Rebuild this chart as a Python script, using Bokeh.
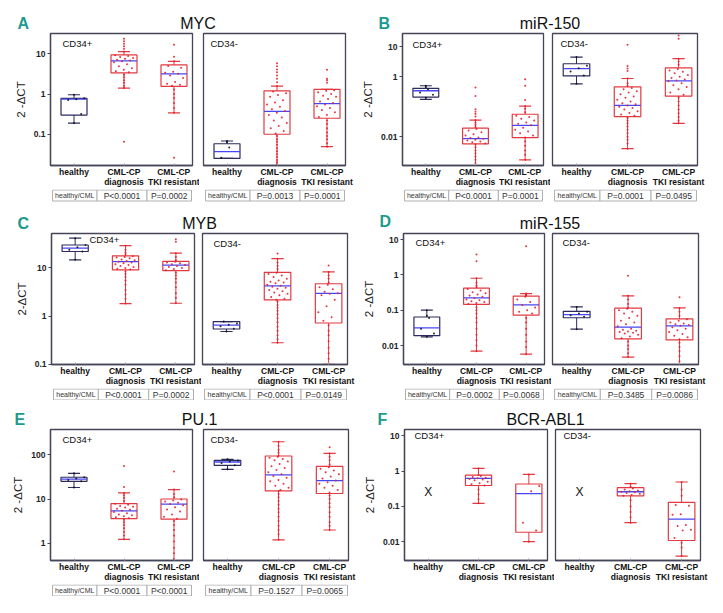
import math
from bokeh.plotting import figure
from bokeh.models import Range1d, FixedTicker, CustomJSTickFormatter, Label, ColumnDataSource
from bokeh.layouts import column, row
from bokeh.embed import file_html
from bokeh.resources import INLINE
from bokeh.core.properties import value

# ---------------- data ----------------
groups = ["healthy", "CML-CP\ndiagnosis", "CML-CP\nTKI resistant"]
compare_label = "healthy/CML"
subsets = ["CD34+", "CD34-"]
ylabel_main = "2 -\u0394CT"
ylabel_myb = "2-\u0394CT"

# box stats per group: [lower whisker, q1, median, q3, upper whisker]
MYC_ticks = [0.1, 1, 10]
MYC_pos_stats = [[0.19, 0.30, 0.75, 0.78, 0.96], [1.41, 3.35, 6.7, 9.4, 11.4], [0.34, 1.55, 3.16, 5.3, 6.5]]
MYC_pos_healthy = [0.96, 0.78, 0.74, 0.71, 0.32, 0.19]
MYC_pos_diag = [23.7, 20.6, 17.8, 15.5, 13.3, 11.4, 9.2, 8.8, 8.3, 7.9, 7.5, 7.1, 6.8, 6.5, 6.2, 5.5, 4.9, 4.4,
                4.0, 3.7, 3.5, 3.0, 2.6, 2.2, 1.9, 1.6, 1.41, 0.065]
MYC_pos_tki = [16.8, 8.4, 6.5, 5.0, 4.5, 3.6, 3.4, 3.2, 2.9, 2.5, 2.0, 1.8, 1.7, 1.6, 1.3, 1.0, 0.8, 0.6, 0.45, 0.34, 0.026]
MYC_neg_stats = [[0.025, 0.025, 0.037, 0.058, 0.068], [0.012, 0.10, 0.37, 1.2, 1.58], [0.049, 0.25, 0.58, 1.3, 1.3]]
MYC_neg_healthy = [0.068, 0.063, 0.047, 0.026]
MYC_neg_diag = [5.8, 4.9, 4.1, 3.5, 2.9, 2.4, 1.95, 1.58, 1.15, 1.05, 0.95, 0.85, 0.7, 0.62, 0.55, 0.48, 0.42, 0.38,
                0.34, 0.3, 0.26, 0.22, 0.19, 0.16, 0.14, 0.12, 0.105, 0.09, 0.075, 0.065, 0.055, 0.045, 0.038,
                0.032, 0.027, 0.023, 0.02, 0.018]
MYC_neg_tki = [4.0, 2.4, 2.2, 1.9, 1.25, 1.2, 1.1, 1.0, 0.9, 0.85, 0.75, 0.65, 0.6, 0.55, 0.5, 0.45, 0.4, 0.35, 0.3,
               0.27, 0.22, 0.18, 0.14, 0.11, 0.09, 0.075, 0.06, 0.049]
MYC_p_pos = ["P<0.0001", "P=0.0002"]
MYC_p_neg = ["P=0.0013", "P=0.0001"]

MIR150_ticks = [0.01, 1, 10]
MIR150_pos_stats = [[0.176, 0.21, 0.34, 0.41, 0.50], [0.0008, 0.0058, 0.0087, 0.0193, 0.036], [0.0017, 0.0094, 0.024, 0.056, 0.105]]
MIR150_pos_healthy = [0.50, 0.45, 0.38, 0.30, 0.25, 0.2]
MIR150_pos_diag = [0.44, 0.226, 0.082, 0.068, 0.057, 0.047, 0.036, 0.03, 0.025, 0.021, 0.018, 0.016, 0.014, 0.012,
                   0.011, 0.0095, 0.009, 0.0085, 0.008, 0.0075, 0.007, 0.0065, 0.006, 0.0055, 0.0045, 0.0035,
                   0.0028, 0.0022, 0.0017, 0.0013]
MIR150_pos_tki = [0.83, 0.50, 0.167, 0.105, 0.085, 0.065, 0.05, 0.045, 0.04, 0.035, 0.03, 0.027, 0.024, 0.02, 0.017,
                  0.015, 0.013, 0.011, 0.0095, 0.007, 0.005, 0.0035, 0.0025, 0.0017]
MIR150_neg_stats = [[0.58, 1.06, 1.86, 2.7, 4.5], [0.004, 0.047, 0.111, 0.46, 0.87], [0.028, 0.226, 0.73, 1.96, 4.0]]
MIR150_neg_healthy = [4.5, 2.3, 1.9, 1.5, 1.1, 0.58]
MIR150_neg_diag = [11.6, 2.28, 1.87, 1.56, 0.87, 0.6, 0.5, 0.42, 0.38, 0.33, 0.3, 0.26, 0.22, 0.2, 0.17, 0.15, 0.13,
                   0.12, 0.11, 0.1, 0.09, 0.08, 0.07, 0.062, 0.055, 0.05, 0.042, 0.035, 0.028, 0.022, 0.017, 0.013,
                   0.01, 0.008, 0.006, 0.004]
MIR150_neg_tki = [23.7, 18.4, 4.0, 3.2, 2.5, 1.8, 1.6, 1.45, 1.3, 1.15, 1.0, 0.9, 0.8, 0.75, 0.7, 0.6, 0.52, 0.45,
                  0.38, 0.3, 0.25, 0.2, 0.15, 0.11, 0.08, 0.06, 0.045, 0.035, 0.028]
MIR150_p_pos = ["P<0.0001", "P=0.0001"]
MIR150_p_neg = ["P=0.0001", "P=0.0495"]

MYB_ticks = [0.1, 1, 10]
MYB_pos_stats = [[14.8, 22, 25.8, 30, 41.5], [1.82, 9.1, 13.5, 17.9, 29], [1.85, 8.8, 11.5, 13.7, 20.3]]
MYB_pos_healthy = [41.5, 30, 27, 24, 22, 14.8]
MYB_pos_diag = [29, 24, 21, 19, 17.5, 17, 16.5, 16, 15, 14.5, 14, 13.5, 13, 12.5, 12, 11.5, 11, 10.5, 10, 9.6, 9.3,
                8.5, 7.5, 6.5, 5.5, 4.5, 3.5, 2.8, 2.3, 1.82]
MYB_pos_tki = [39.4, 35, 20.3, 17, 14.5, 13.5, 13, 12.5, 12, 11.5, 11, 10.5, 10, 9.5, 9, 8, 7, 6, 5, 4, 3, 2.4, 1.85]
MYB_neg_stats = [[0.48, 0.54, 0.65, 0.77, 0.77], [0.28, 2.17, 4.27, 8.1, 15.6], [0.1, 0.72, 2.96, 4.7, 8.3]]
MYB_neg_healthy = [0.77, 0.7, 0.66, 0.62, 0.55, 0.48]
MYB_neg_diag = [20, 15.6, 13, 11, 9.5, 8, 7.5, 7, 6.5, 6, 5.5, 5.2, 5, 4.8, 4.5, 4.3, 4.1, 3.9, 3.7, 3.5, 3.3, 3.1,
                2.9, 2.7, 2.5, 2.3, 2.2, 2.0, 1.7, 1.5, 1.3, 1.1, 0.9, 0.75, 0.6, 0.5, 0.4, 0.33, 0.28]
MYB_neg_tki = [11.2, 8.3, 7, 6, 5, 4.5, 4.0, 3.6, 3.2, 3.0, 2.9, 2.7, 2.2, 1.6, 1.2, 0.95, 0.8, 0.65, 0.5, 0.4, 0.3,
               0.22, 0.17, 0.13, 0.1]
MYB_p_pos = ["P<0.0001", "P=0.0002"]
MYB_p_neg = ["P<0.0001", "P=0.0149"]

MIR155_ticks = [0.01, 0.1, 1, 10]
MIR155_pos_stats = [[0.0176, 0.019, 0.0316, 0.064, 0.1], [0.0069, 0.145, 0.224, 0.42, 0.80], [0.0057, 0.072, 0.142, 0.25, 0.295]]
MIR155_pos_healthy = [0.1, 0.07, 0.06, 0.03, 0.022, 0.0176]
MIR155_pos_diag = [3.76, 2.44, 0.8, 0.6, 0.5, 0.45, 0.4, 0.36, 0.32, 0.3, 0.28, 0.26, 0.24, 0.22, 0.2, 0.19, 0.18,
                   0.17, 0.16, 0.15, 0.12, 0.1, 0.08, 0.06, 0.045, 0.03, 0.02, 0.014, 0.01, 0.0069]
MIR155_pos_tki = [6.5, 0.295, 0.28, 0.27, 0.26, 0.24, 0.2, 0.17, 0.14, 0.12, 0.1, 0.09, 0.08, 0.06, 0.045, 0.03,
                  0.02, 0.013, 0.009, 0.0057]
MIR155_neg_stats = [[0.029, 0.061, 0.075, 0.093, 0.124], [0.0047, 0.0155, 0.033, 0.114, 0.255], [0.0022, 0.0144, 0.036, 0.057, 0.116]]
MIR155_neg_healthy = [0.124, 0.09, 0.08, 0.072, 0.065, 0.029]
MIR155_neg_diag = [0.95, 0.255, 0.2, 0.15, 0.12, 0.11, 0.1, 0.09, 0.08, 0.07, 0.06, 0.05, 0.045, 0.04, 0.035, 0.03,
                   0.028, 0.026, 0.025, 0.024, 0.023, 0.022, 0.02, 0.018, 0.016, 0.013, 0.01, 0.008, 0.006, 0.0047]
MIR155_neg_tki = [0.234, 0.116, 0.09, 0.07, 0.055, 0.05, 0.045, 0.042, 0.04, 0.038, 0.036, 0.033, 0.03, 0.027,
                  0.024, 0.021, 0.019, 0.017, 0.015, 0.012, 0.009, 0.007, 0.005, 0.0035]
MIR155_p_pos = ["P=0.0002", "P=0.0068"]
MIR155_p_neg = ["P=0.3485", "P=0.0086"]

PU1_ticks = [1, 10, 100]
PU1_pos_stats = [[18.2, 25, 28, 31, 38], [1.23, 3.6, 5.4, 7.9, 13.7], [0.38, 3.5, 7.65, 10, 16.3]]
PU1_pos_healthy = [38, 31, 29, 27, 25, 18.2]
PU1_pos_diag = [55.6, 18.7, 13.7, 12, 10.5, 9, 7.8, 7.4, 7, 6.7, 6.4, 6, 5.7, 5.4, 5.1, 4.8, 4.5, 4.3, 4.1, 3.9,
                3.7, 3.4, 3.0, 2.6, 2.2, 1.8, 1.5, 1.23]
PU1_pos_tki = [41.5, 16.3, 13, 11, 9.8, 9.3, 8.8, 8.2, 7.7, 7.2, 6.5, 5.8, 5.2, 4.5, 4, 3.6, 3.2, 2.6, 2, 1.5, 1.1,
               0.8, 0.6, 0.45]
PU1_neg_stats = [[46.8, 57.5, 68.4, 74.6, 78.5], [1.2, 15.3, 34.9, 93.4, 196], [2.0, 13.3, 26, 54.7, 107]]
PU1_neg_healthy = [78.5, 74, 70, 65, 58, 46.8]
PU1_neg_diag = [196, 160, 130, 110, 95, 90, 85, 80, 75, 70, 62, 55, 50, 45, 40, 36, 33, 30, 27, 25, 22, 20, 18, 16,
                15, 13, 11, 9, 7.5, 6, 5, 4, 3.2, 2.5, 2, 1.6, 1.2]
PU1_neg_tki = [148, 107, 90, 75, 60, 52, 48, 44, 40, 36, 32, 29, 26, 24, 22, 20, 18, 16, 14, 12, 10, 8, 6.5, 5, 4,
               3, 2.5, 2.0]
PU1_p_pos = ["P<0.0001", "P<0.0001"]
PU1_p_neg = ["P=0.1527", "P=0.0065"]

BCR_ticks = [0.01, 0.1, 1, 10]
BCR_healthy_mark = "X"          # healthy donors: no BCR-ABL1
BCR_healthy_level = 0.26
BCR_pos_stats = [None, [0.123, 0.39, 0.62, 0.77, 1.18], [0.0102, 0.0188, 0.23, 0.43, 0.8]]
BCR_pos_healthy = []
BCR_pos_diag = [1.18, 0.78, 0.72, 0.68, 0.65, 0.62, 0.6, 0.58, 0.55, 0.5, 0.45, 0.42, 0.39, 0.3, 0.22, 0.16, 0.123]
BCR_pos_tki = [0.8, 0.38, 0.27, 0.035, 0.021, 0.0102]
BCR_neg_stats = [None, [0.035, 0.2, 0.26, 0.34, 0.44], [0.004, 0.011, 0.044, 0.131, 0.49]]
BCR_neg_healthy = []
BCR_neg_diag = [0.44, 0.36, 0.32, 0.3, 0.28, 0.27, 0.26, 0.25, 0.24, 0.23, 0.21, 0.2, 0.15, 0.1, 0.07, 0.05, 0.035]
BCR_neg_tki = [0.49, 0.3, 0.2, 0.11, 0.105, 0.06, 0.058, 0.03, 0.028, 0.022, 0.021, 0.013, 0.0095, 0.007, 0.004]

# ---------------- style ----------------
SANS = "Liberation Sans"
RED_BOX = "#e23a40"
RED_PT = "#e3202c"
NAVY = "#2b2b5c"
BLUE = "#4646f5"
FRAME = "#45455a"
TEAL = "#1b9a8e"
CELL = "#b0b0b0"
XR = (-0.47, 2.37)


def jitter_xs(i, vals, st):
    xs = []
    for k, v in enumerate(vals):
        if st is not None and st[1] <= v <= st[3]:
            off = (((k * 0.6180339887) + 0.37) % 1.0 - 0.5) * 0.42
        else:
            off = 0.0
        xs.append(i + off)
    return xs


def make_plot(stats, pts, ticks, yr, geo, fh, bb, show_y, ylabel, cd_text, cd_dx, cd_dy):
    bl, fw, br = geo
    p = figure(x_range=Range1d(*XR), y_range=Range1d(*yr), y_axis_type="log",
               frame_width=fw, frame_height=fh, min_border_left=bl, min_border_right=br,
               min_border_top=1, min_border_bottom=bb, toolbar_location=None,
               output_backend="svg", title=None, x_axis_location="below",
               y_axis_location=("left" if show_y else None))
    p.outline_line_color = FRAME
    p.outline_line_width = 1.3
    p.grid.visible = False
    xa = p.xaxis[0]
    xa.ticker = FixedTicker(ticks=[0, 1, 2], minor_ticks=[])
    xa.formatter = CustomJSTickFormatter(args=dict(labels=groups), code="return labels[Math.round(tick)];")
    xa.axis_line_color = FRAME
    xa.axis_line_width = 1.3
    xa.major_tick_in = 2
    xa.major_tick_out = 0
    xa.major_tick_line_color = "#9a9aa8"
    xa.minor_tick_in = 0
    xa.minor_tick_out = 0
    xa.major_label_standoff = 1
    xa.major_label_text_font = SANS
    xa.major_label_text_font_style = "bold"
    xa.major_label_text_font_size = "8.5px"
    xa.major_label_text_line_height = 1.0
    xa.major_label_text_color = "#111111"
    if show_y:
        ax = p.yaxis[0]
        ax.ticker = FixedTicker(ticks=ticks, minor_ticks=[])
        ax.formatter = CustomJSTickFormatter(code="return String(tick);")
        ax.axis_line_color = FRAME
        ax.axis_line_width = 1.3
        ax.major_tick_line_color = FRAME
        ax.major_tick_out = 3
        ax.major_tick_in = 0
        ax.minor_tick_out = 0
        ax.minor_tick_in = 0
        ax.major_label_text_font = SANS
        ax.major_label_text_font_style = "bold"
        ax.major_label_text_font_size = "8.5px"
        ax.major_label_text_color = "#222222"
        ax.major_label_standoff = 2
        ax.axis_label = ylabel
        ax.axis_label_text_font = SANS
        ax.axis_label_text_font_style = "normal"
        ax.axis_label_text_font_size = "11.5px"
        ax.axis_label_text_color = "#222222"
        ax.axis_label_standoff = 4

    bx, bq1, bmed, bq3, blo, bhi, bcol = [], [], [], [], [], [], []
    for i, st in enumerate(stats):
        if st is None:
            continue
        bx.append(i)
        blo.append(st[0]); bq1.append(st[1]); bmed.append(st[2]); bq3.append(st[3]); bhi.append(st[4])
        bcol.append(NAVY if i == 0 else RED_BOX)
    src = ColumnDataSource(dict(x=bx, q1=bq1, med=bmed, q3=bq3, lo=blo, hi=bhi, c=bcol,
                                xl=[x - 0.26 for x in bx], xr=[x + 0.26 for x in bx],
                                cl=[x - 0.12 for x in bx], cr=[x + 0.12 for x in bx]))
    p.segment(x0="x", y0="q3", x1="x", y1="hi", source=src, line_color="c", line_width=1.0)
    p.segment(x0="x", y0="q1", x1="x", y1="lo", source=src, line_color="c", line_width=1.0)
    p.segment(x0="cl", y0="hi", x1="cr", y1="hi", source=src, line_color="c", line_width=1.2)
    p.segment(x0="cl", y0="lo", x1="cr", y1="lo", source=src, line_color="c", line_width=1.2)
    p.vbar(x="x", width=0.52, bottom="q1", top="q3", source=src, fill_color="white",
           fill_alpha=0.0, line_color="c", line_width=1.2)
    p.segment(x0="xl", y0="med", x1="xr", y1="med", source=src, line_color=BLUE, line_width=1.3)

    px, py, pc = [], [], []
    for i, vals in enumerate(pts):
        st = stats[i]
        px += jitter_xs(i, vals, st)
        py += list(vals)
        pc += [("#111111" if i == 0 else RED_PT)] * len(vals)
    p.scatter(x=px, y=py, size=2.0, marker="circle", fill_color=pc, fill_alpha=0.9, line_color=None)

    for i, st in enumerate(stats):
        if st is None:
            p.text(x=[i], y=[BCR_healthy_level], text=[BCR_healthy_mark], text_align="center",
                   text_baseline="middle", text_font=value(SANS), text_font_size="12px",
                   text_color="#111111")

    lt, lb = math.log10(yr[1]), math.log10(yr[0])
    lx = XR[0] + cd_dx * (XR[1] - XR[0]) / fw
    ly = 10 ** (lt - cd_dy * (lt - lb) / fh)
    p.add_layout(Label(x=lx, y=ly, text=cd_text, text_align="left", text_baseline="middle",
                       text_font=SANS, text_font_size="9.5px", text_color="#111111"))
    return p


def make_table(geo, H, t_top, t_bot, pvals):
    bl, fw, br = geo
    q = figure(x_range=Range1d(*XR), y_range=Range1d(H, 0), frame_width=fw, frame_height=H,
               min_border_left=bl, min_border_right=br, min_border_top=0, min_border_bottom=0,
               x_axis_location=None, y_axis_location=None, toolbar_location=None,
               output_backend="svg", title=None)
    q.outline_line_color = None
    q.grid.visible = False
    if pvals is not None:
        left = [-0.43, 0.46, 1.46]
        right = [0.46, 1.46, 2.35]
        q.quad(left=left, right=right, top=[t_top] * 3, bottom=[t_bot] * 3, fill_color="white",
               line_color=CELL, line_width=1)
        cy = (t_top + t_bot) / 2
        q.text(x=[(left[0] + right[0]) / 2], y=[cy], text=[compare_label], text_align="center",
               text_baseline="middle", text_font=value(SANS), text_font_size="7px", text_color="#333333")
        q.text(x=[(left[1] + right[1]) / 2, (left[2] + right[2]) / 2], y=[cy, cy], text=pvals,
               text_align="center", text_baseline="middle", text_font=value(SANS),
               text_font_size="8.5px", text_color="#333333")
    return q


def make_header(W, H, items):
    h = figure(x_range=Range1d(0, W), y_range=Range1d(H, 0), frame_width=W, frame_height=H,
               min_border_left=0, min_border_right=0, min_border_top=0, min_border_bottom=0,
               x_axis_location=None, y_axis_location=None, toolbar_location=None,
               output_backend="svg", title=None)
    h.outline_line_color = None
    h.grid.visible = False
    for (x, y, t, size, color, style, align) in items:
        h.text(x=[x], y=[y], text=[t], text_align=align, text_baseline="middle",
               text_font=value(SANS), text_font_size=size, text_color=color, text_font_style=style)
    return h


def build_row(panels, geo, header_h, fh, bb, tab_h, t_top, t_bot):
    cols = []
    items = []
    xpos = 0
    frame_pos = []
    for pi, panel in enumerate(panels):
        for si in range(2):
            g = geo[pi * 2 + si]
            bl, fw, br = g
            frame_pos.append((xpos + bl, xpos + bl + fw))
            pl = make_plot(panel["stats"][si], panel["pts"][si], panel["ticks"], panel["yr"], g, fh, bb,
                           si == 0, panel["ylabel"], subsets[si], panel["cd"][si][0], panel["cd"][si][1])
            tb = make_table(g, tab_h, t_top, t_bot, panel["p"][si])
            cols.append(column(pl, tb))
            xpos += bl + fw + br
        f0 = frame_pos[pi * 2][0]
        f1 = frame_pos[pi * 2 + 1][1]
        items.append((panel["lx"], panel["ly"], panel["letter"], "16px", TEAL, "bold", "left"))
        items.append(((f0 + f1) / 2, panel["ty"], panel["title"], "16px", "#111111", "normal", "center"))
    header = make_header(xpos, header_h, items)
    return column(header, row(*cols))


A = dict(letter="A", title="MYC", ticks=MYC_ticks, yr=(0.0167, 32), ylabel=ylabel_main,
         stats=[MYC_pos_stats, MYC_neg_stats],
         pts=[[MYC_pos_healthy, MYC_pos_diag, MYC_pos_tki], [MYC_neg_healthy, MYC_neg_diag, MYC_neg_tki]],
         p=[MYC_p_pos, MYC_p_neg], cd=[(12, 10), (7, 10)], lx=17, ly=23, ty=23)
B = dict(letter="B", title="miR-150", ticks=MIR150_ticks, yr=(0.0011, 27.5), ylabel=ylabel_main,
         stats=[MIR150_pos_stats, MIR150_neg_stats],
         pts=[[MIR150_pos_healthy, MIR150_pos_diag, MIR150_pos_tki], [MIR150_neg_healthy, MIR150_neg_diag, MIR150_neg_tki]],
         p=[MIR150_p_pos, MIR150_p_neg], cd=[(10, 11), (8, 10)], lx=378, ly=23, ty=23)
C = dict(letter="C", title="MYB", ticks=MYB_ticks, yr=(0.099, 52), ylabel=ylabel_myb,
         stats=[MYB_pos_stats, MYB_neg_stats],
         pts=[[MYB_pos_healthy, MYB_pos_diag, MYB_pos_tki], [MYB_neg_healthy, MYB_neg_diag, MYB_neg_tki]],
         p=[MYB_p_pos, MYB_p_neg], cd=[(38, 6), (11, 9.5)], lx=17, ly=21, ty=21)
D = dict(letter="D", title="miR-155", ticks=MIR155_ticks, yr=(0.0029, 14.8), ylabel=ylabel_main,
         stats=[MIR155_pos_stats, MIR155_neg_stats],
         pts=[[MIR155_pos_healthy, MIR155_pos_diag, MIR155_pos_tki], [MIR155_neg_healthy, MIR155_neg_diag, MIR155_neg_tki]],
         p=[MIR155_p_pos, MIR155_p_neg], cd=[(12, 9), (10, 9)], lx=379, ly=19, ty=21)
E = dict(letter="E", title="PU.1", ticks=PU1_ticks, yr=(0.41, 370), ylabel=ylabel_main,
         stats=[PU1_pos_stats, PU1_neg_stats],
         pts=[[PU1_pos_healthy, PU1_pos_diag, PU1_pos_tki], [PU1_neg_healthy, PU1_neg_diag, PU1_neg_tki]],
         p=[PU1_p_pos, PU1_p_neg], cd=[(12, 10), (7, 10)], lx=14, ly=19, ty=19)
F = dict(letter="F", title="BCR-ABL1", ticks=BCR_ticks, yr=(0.003, 14.8), ylabel=ylabel_main,
         stats=[BCR_pos_stats, BCR_neg_stats],
         pts=[[BCR_pos_healthy, BCR_pos_diag, BCR_pos_tki], [BCR_neg_healthy, BCR_neg_diag, BCR_neg_tki]],
         p=[None, None], cd=[(10, 6), (8, 6)], lx=377, ly=19, ty=19)

row1 = build_row([A, B], [(50, 142, 7), (4, 142, 12), (45, 141, 7), (2, 145, 12)], 32, 132, 23, 13, 0.5, 11.5)
row2 = build_row([C, D], [(51, 143, 7), (1, 145, 12), (43, 141, 7), (1, 146, 12)], 30, 131, 23, 12, 0.5, 11.5)
row3 = build_row([E, F], [(50, 142, 7), (4, 145, 12), (37, 143, 7), (1, 145, 12)], 28, 131, 21, 12, 0.5, 11.5)

layout = column(row1, row2, row3)
open("out.html", "w").write(file_html(layout, INLINE))
